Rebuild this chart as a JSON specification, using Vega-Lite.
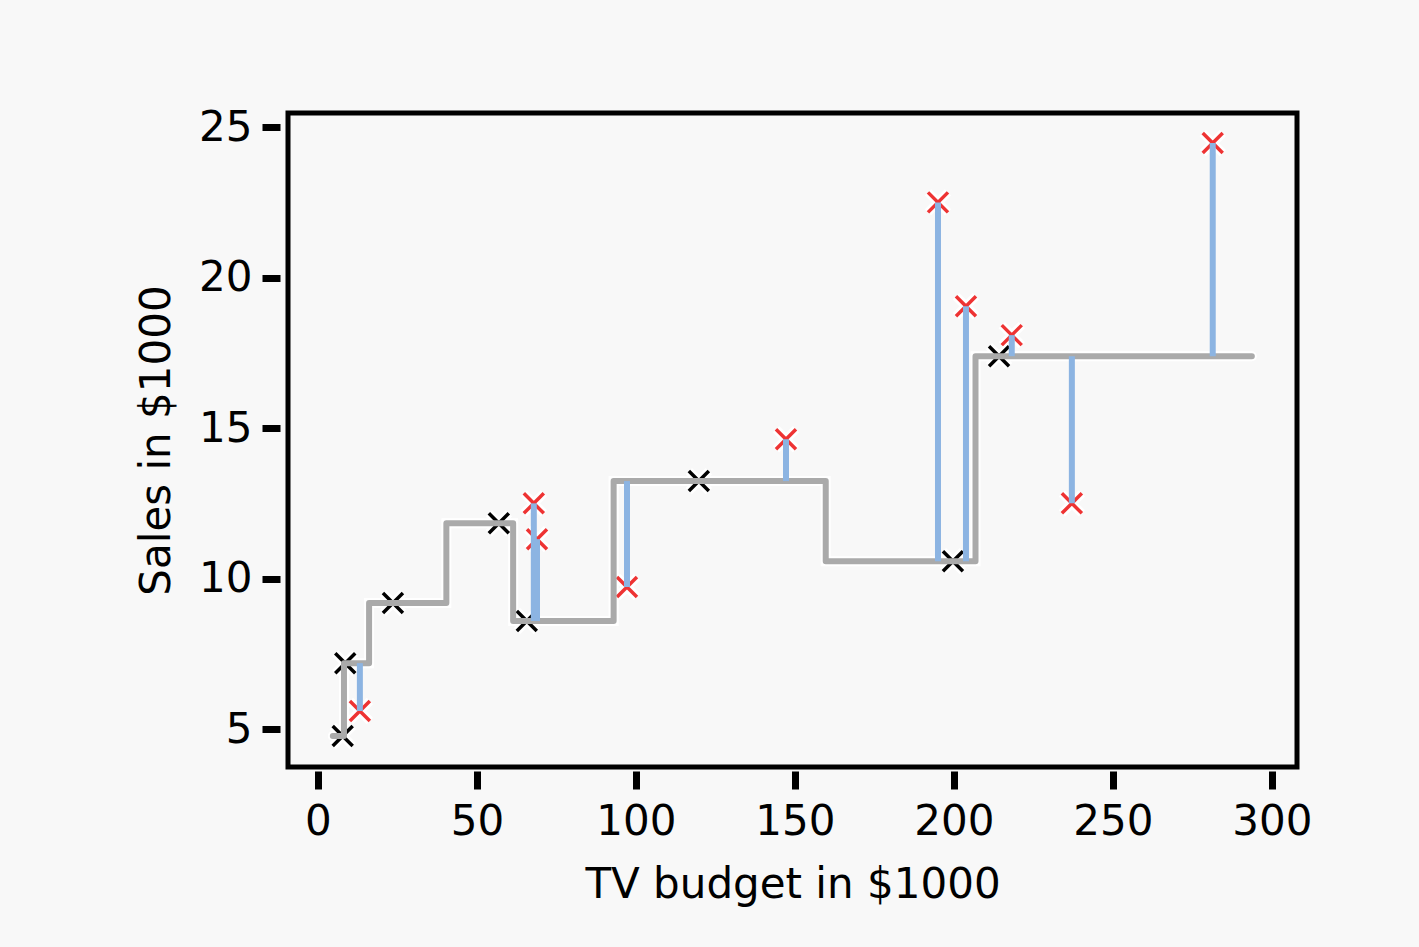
{
  "$schema": "https://vega.github.io/schema/vega-lite/v6.json",
  "autosize": "none",
  "width": 1009,
  "height": 654,
  "padding": {"left": 288, "top": 113, "right": 122, "bottom": 180},
  "background": "#f8f8f8",
  "config": {
    "view": {"stroke": "black", "strokeWidth": 5, "fill": "#f8f8f8"},
    "font": "DejaVu Sans",
    "axis": {
      "grid": false,
      "domain": false,
      "tickColor": "black",
      "tickWidth": 7,
      "tickSize": 18,
      "labelFontSize": 42,
      "labelColor": "black",
      "labelFont": "DejaVu Sans",
      "titleFont": "DejaVu Sans",
      "titleFontSize": 42,
      "titleFontWeight": "normal",
      "titleColor": "black"
    }
  },
  "datasets": {
    "train": [
      {"tv": 7.8, "sales": 4.77},
      {"tv": 8.6, "sales": 7.19},
      {"tv": 23.6, "sales": 9.19},
      {"tv": 56.9, "sales": 11.84},
      {"tv": 65.7, "sales": 8.59},
      {"tv": 119.8, "sales": 13.24},
      {"tv": 199.7, "sales": 10.58},
      {"tv": 214.2, "sales": 17.39}
    ],
    "test": [
      {"tv": 13.2, "sales": 5.6, "pred": 7.19},
      {"tv": 67.9, "sales": 12.5, "pred": 8.59},
      {"tv": 68.9, "sales": 11.31, "pred": 8.59},
      {"tv": 97.2, "sales": 9.72, "pred": 13.24},
      {"tv": 147.2, "sales": 14.63, "pred": 13.24},
      {"tv": 195.0, "sales": 22.5, "pred": 10.58},
      {"tv": 203.8, "sales": 19.05, "pred": 10.58},
      {"tv": 218.2, "sales": 18.09, "pred": 17.39},
      {"tv": 237.1, "sales": 12.5, "pred": 17.39},
      {"tv": 281.4, "sales": 24.47, "pred": 17.39}
    ],
    "step": [
      {"tv": 4.7, "sales": 4.77},
      {"tv": 8.2, "sales": 7.19},
      {"tv": 16.1, "sales": 9.19},
      {"tv": 40.4, "sales": 11.84},
      {"tv": 61.4, "sales": 8.59},
      {"tv": 93.0, "sales": 13.24},
      {"tv": 159.7, "sales": 10.58},
      {"tv": 206.8, "sales": 17.39},
      {"tv": 293.7, "sales": 17.39}
    ]
  },
  "encoding": {
    "x": {
      "field": "tv", "type": "quantitative",
      "scale": {"domain": [-9.4, 307.9], "nice": false, "zero": false},
      "axis": {"title": "TV budget in $1000", "values": [0, 50, 100, 150, 200, 250, 300], "offset": 4, "labelPadding": 12, "titlePadding": 22}
    },
    "y": {
      "field": "sales", "type": "quantitative",
      "scale": {"domain": [3.74, 25.47], "nice": false, "zero": false},
      "axis": {"title": "Sales in $1000", "values": [5, 10, 15, 20, 25], "offset": 8, "labelPadding": 10, "titlePadding": 20}
    }
  },
  "layer": [
    {
      "data": {"name": "step"},
      "mark": {"type": "line", "interpolate": "step-after", "color": "white", "strokeWidth": 10, "strokeCap": "round"}
    },
    {
      "data": {"name": "train"},
      "mark": {"type": "point", "shape": "M-1,-1L1,1M1,-1L-1,1", "size": 400, "stroke": "white", "strokeWidth": 9, "opacity": 1}
    },
    {
      "data": {"name": "test"},
      "mark": {"type": "point", "shape": "M-1,-1L1,1M1,-1L-1,1", "size": 400, "stroke": "white", "strokeWidth": 9, "opacity": 1}
    },
    {
      "data": {"name": "train"},
      "mark": {"type": "point", "shape": "M-1,-1L1,1M1,-1L-1,1", "size": 400, "stroke": "black", "strokeWidth": 3.5, "opacity": 1}
    },
    {
      "data": {"name": "test"},
      "mark": {"type": "point", "shape": "M-1,-1L1,1M1,-1L-1,1", "size": 400, "stroke": "#ee3333", "strokeWidth": 3.5, "opacity": 1}
    },
    {
      "data": {"name": "step"},
      "mark": {"type": "line", "interpolate": "step-after", "color": "#aaaaaa", "strokeWidth": 6, "strokeCap": "round", "strokeJoin": "round"}
    },
    {
      "data": {"name": "test"},
      "mark": {"type": "rule", "color": "#8cb4e2", "strokeWidth": 6},
      "encoding": {
        "y": {"field": "pred", "type": "quantitative"},
        "y2": {"field": "sales"}
      }
    }
  ]
}
